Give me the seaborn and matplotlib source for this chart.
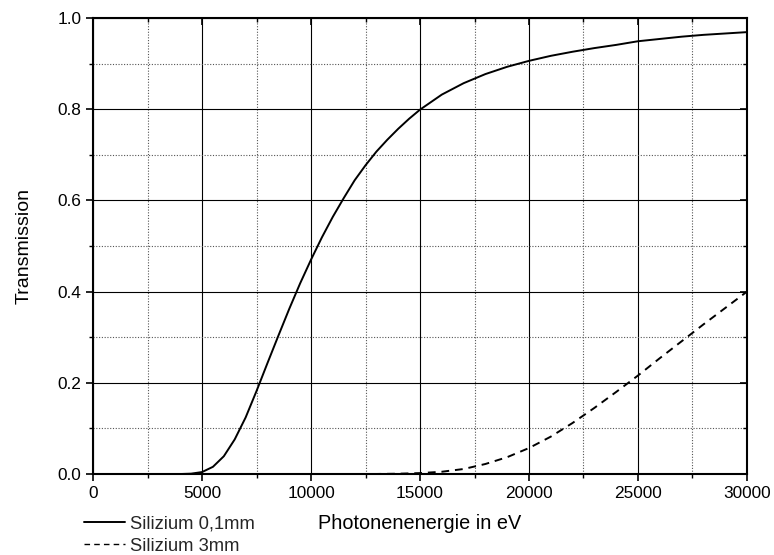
import numpy as np
import pandas as pd
import matplotlib
matplotlib.use("Agg")
import matplotlib.pyplot as plt
import seaborn as sns
from matplotlib.ticker import MultipleLocator, FormatStrFormatter
from matplotlib.lines import Line2D

energy_thin = [1000, 2000, 3000, 4000, 4500, 5000, 5500, 6000, 6500, 7000, 7500, 8000,
               8500, 9000, 9500, 10000, 10500, 11000, 11500, 12000, 12500, 13000, 13500,
               14000, 14500, 15000, 16000, 17000, 18000, 19000, 20000, 21000, 22000,
               23000, 24000, 25000, 26000, 27000, 28000, 29000, 30000]
trans_thin = [0.0, 0.0, 0.0, 0.0, 0.0008, 0.0043, 0.0158, 0.039, 0.076, 0.124, 0.182, 0.243,
              0.303, 0.362, 0.418, 0.470, 0.519, 0.564, 0.605, 0.644, 0.677, 0.707, 0.733,
              0.757, 0.779, 0.799, 0.832, 0.857, 0.877, 0.893, 0.906, 0.917, 0.926,
              0.934, 0.941, 0.949, 0.954, 0.959, 0.963, 0.966, 0.969]

energy_thick = [1000, 5000, 10000, 13000, 14000, 15000, 16000, 17000, 18000, 19000, 20000,
                21000, 22000, 23000, 24000, 25000, 26000, 27000, 28000, 29000, 30000]
trans_thick = [0.0, 0.0, 0.0, 0.0001, 0.0007, 0.002, 0.005, 0.011, 0.022, 0.037, 0.057,
               0.082, 0.112, 0.145, 0.180, 0.216, 0.254, 0.291, 0.328, 0.364, 0.400]

labels = ["Silizium 0,1mm", "Silizium 3mm"]

df = pd.concat([
    pd.DataFrame({"E": energy_thin, "T": trans_thin, "Probe": labels[0]}),
    pd.DataFrame({"E": energy_thick, "T": trans_thick, "Probe": labels[1]}),
])

sns.set_theme(style="white")
plt.rcParams["font.family"] = ["Liberation Sans", "DejaVu Sans"]

fig = plt.figure(figsize=(7.74, 5.55), dpi=100)
ax = fig.add_axes([0.1202, 0.1459, 0.8449, 0.8217])

sns.lineplot(data=df, x="E", y="T", style="Probe", color="black",
             dashes={labels[0]: "", labels[1]: (4, 3)}, linewidth=1.4,
             ax=ax, legend=False)

ax.set_xlim(0, 30000)
ax.set_ylim(0, 1.0)
ax.xaxis.set_major_locator(MultipleLocator(5000))
ax.xaxis.set_minor_locator(MultipleLocator(2500))
ax.yaxis.set_major_locator(MultipleLocator(0.2))
ax.yaxis.set_minor_locator(MultipleLocator(0.1))
ax.yaxis.set_major_formatter(FormatStrFormatter("%.1f"))

ax.grid(which="major", color="black", linestyle="-", linewidth=0.8)
ax.grid(which="minor", color="#555555", linestyle=(0, (1, 1.5)), linewidth=0.8)
ax.set_axisbelow(True)

for s in ax.spines.values():
    s.set_color("black")
    s.set_linewidth(1.5)

ax.tick_params(which="both", bottom=True, left=True, top=True, right=True,
               color="black", labelsize=12.4, labelcolor="black",
               direction="out")
ax.tick_params(which="major", length=5, width=1.2)
ax.tick_params(which="minor", length=3, width=1.0)
for t in ax.xaxis.get_major_ticks() + ax.xaxis.get_minor_ticks():
    t.tick2line.set_marker(matplotlib.markers.TICKDOWN)
for t in ax.yaxis.get_major_ticks() + ax.yaxis.get_minor_ticks():
    t.tick2line.set_marker(matplotlib.markers.TICKLEFT)

ax.set_xlabel("Photonenenergie in eV", fontsize=14.3, color="black")
ax.set_ylabel("Transmission", fontsize=14, color="black")
ax.xaxis.set_label_coords(0.5, -0.088)
ax.yaxis.set_label_coords(-0.093, 0.5)

handles = [Line2D([], [], color="black", lw=1.4, linestyle="-"),
           Line2D([], [], color="black", lw=1.0, linestyle=(0, (4, 3)))]
fig.legend(handles, labels, loc="upper left", bbox_to_anchor=(0.108, 0.072),
           frameon=False, fontsize=13.2, handlelength=2.25, handletextpad=0.28,
           labelspacing=0.3, borderpad=0.0, borderaxespad=0.0)

fig.savefig("out.png", dpi=100, facecolor="white")
